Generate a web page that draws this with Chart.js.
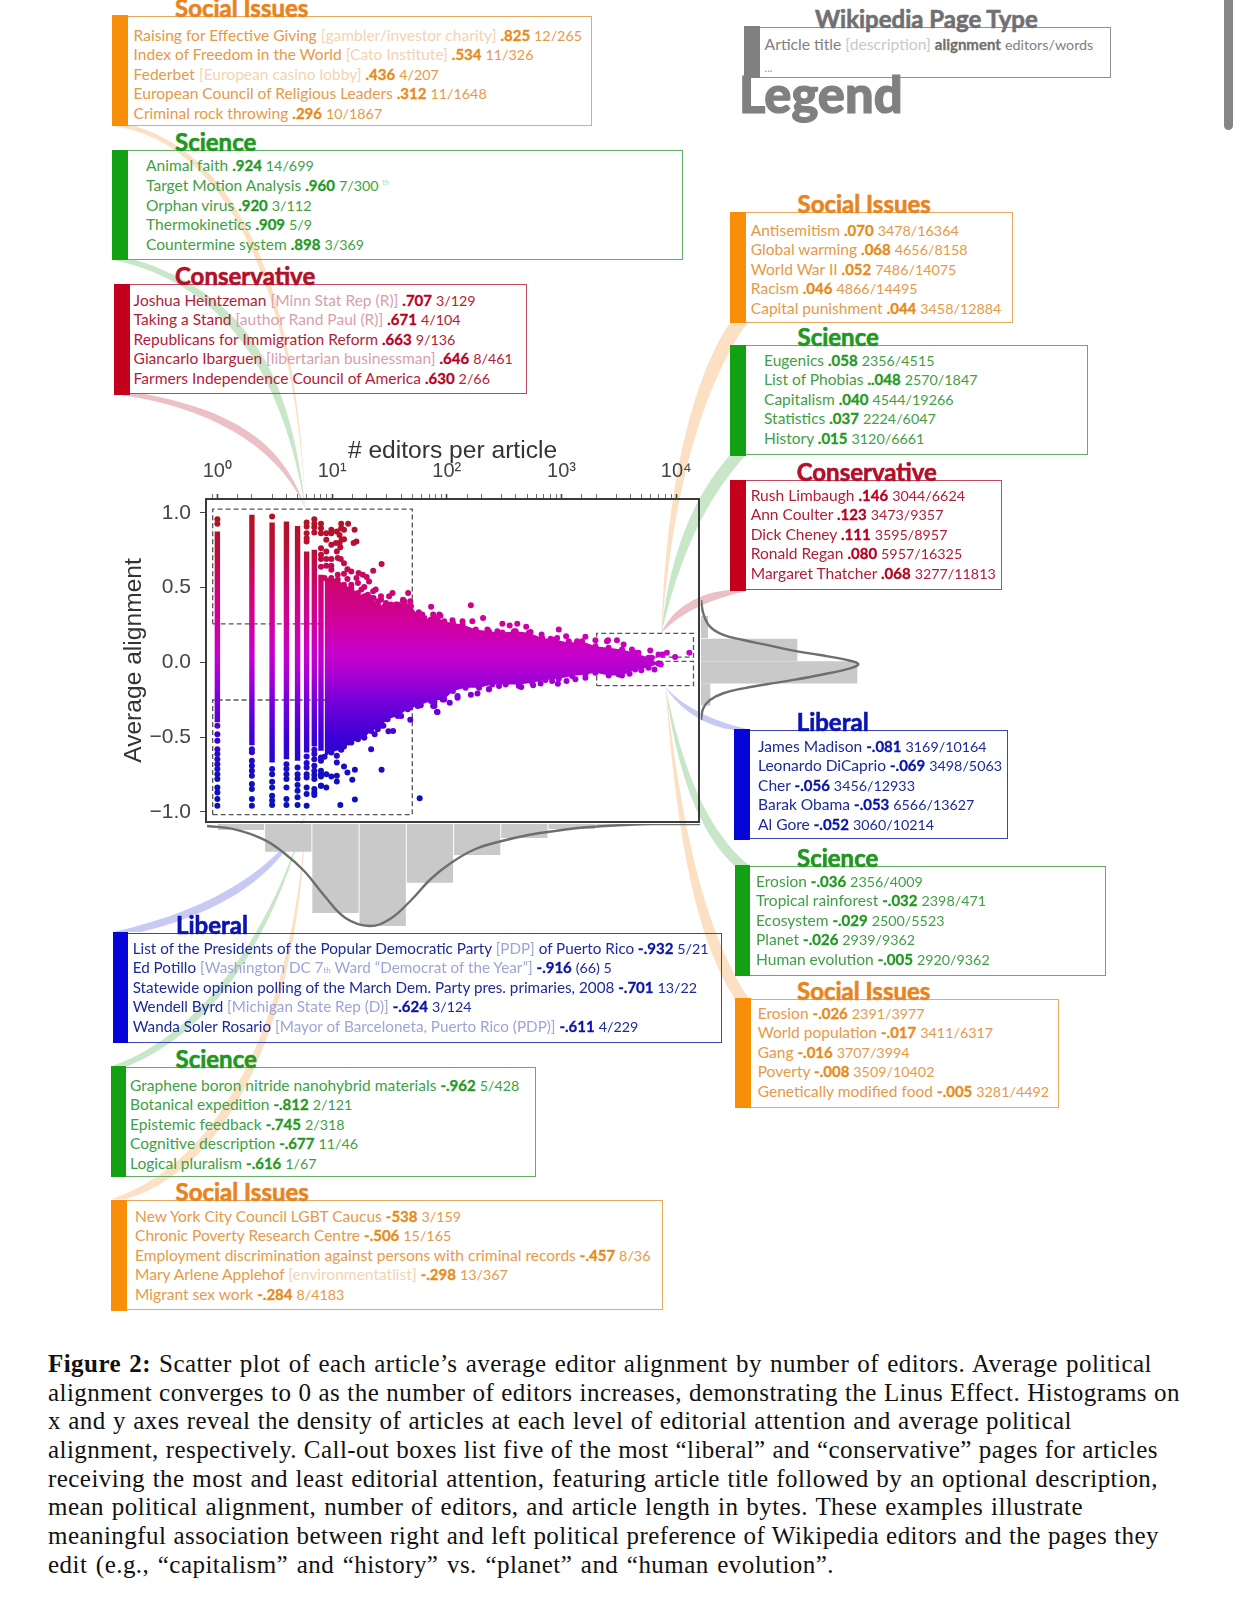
<!DOCTYPE html>
<html>
<head>
<meta charset="utf-8">
<script src="https://cdn.jsdelivr.net/npm/chart.js@4"></script>
<style>
  html, body { margin: 0; padding: 0; background: #fff; }
  body { position: relative; width: 1242px; height: 1598px; overflow: hidden; font-family: Lato, "Noto Sans", sans-serif; }
  canvas { position: absolute; z-index: 1; }
  #ribbons { position: absolute; left: 0; top: 0; z-index: 0; }
  .box { position: absolute; box-sizing: border-box; border: 1.5px solid; z-index: 2; }
  .bar { position: absolute; top: -1.5px; bottom: -1.5px; left: -1.5px; }
  .head { position: absolute; font-weight: 700; font-size: 24px; line-height: 24px; white-space: nowrap; z-index: 2; -webkit-text-stroke: .6px currentColor; }
  .line { position: absolute; font-size: 15.55px; line-height: 20px; white-space: nowrap; z-index: 2; }
  .line b { font-size: 15px; -webkit-text-stroke: .3px currentColor; }
  .line .stats { font-size: 14.3px; }
  .line small { font-size: 8px; line-height: 0; }
  .line sup { font-size: 8px; line-height: 0; opacity: .4; }
  .cap { position: absolute; left: 48px; font-family: "Liberation Serif", serif; font-size: 25px; letter-spacing: .45px; line-height: 29px; white-space: nowrap; text-align-last: justify; color: #111; z-index: 2; }
  #scrollThumb { position: absolute; left: 1224px; top: -8px; width: 9px; height: 138px; border-radius: 5px; background: #868686; z-index: 3; }
  #legendWord { position: absolute; left: 739px; top: 64px; font-weight: 900; font-size: 50.6px; line-height: 60px; color: #808080; z-index: 3; -webkit-text-stroke: 1.2px currentColor; }
</style>
</head>
<body>
<svg id="ribbons" width="1242" height="1598"></svg>
<canvas id="scatterChart"></canvas>
<canvas id="editorsHist"></canvas>
<canvas id="alignHist"></canvas>
<div id="scrollThumb"></div>
<div id="legendWord">Legend</div>
<script>
// columns of articles with 1..8 editors, solid part
const columnEditors = [1, 2, 3, 4, 5, 6, 7, 8];
const columnTop = [.875, .987, .936, .942, .913, .742, .753, .587];
const columnBottom = [-.40, -.553, -.669, -.647, -.658, -.602, -.562, -.591];
// separate dots on each column above/below the solid part
const columnBeads = [
  [.958, .927, -.424, -.48, -.524, -.58, -.613, -.647, -.68, -.713, -.747, -.78, -.836, -.869, -.913, -.958],
  [-.58, -.60, -.658, -.691, -.724, -.758, -.813, -.847, -.913, -.958],
  [.976, -.713, -.747, -.798, -.836, -.891, -.924, -.953],
  [-.68, -.713, -.747, -.78, -.836, -.913, -.953],
  [-.702, -.747, -.776, -.82, -.858, -.902, -.953],
  [.936, .909, .864, .831, .809, -.629, -.673, -.702, -.747, -.769, -.836, -.88, -.958],
  [.958, .927, .904, .869, -.584, -.613, -.647, -.691, -.724, -.753, -.78, -.847, -.869, -.887],
  [.927, .898, .864, .764, .72, .691, .64, -.636, -.658, -.724, -.747, -.762, -.824]
];

// outline of the dense wedge
const massUpperEditors = [8.6, 9.85, 11.2, 12.7, 14.7, 16.8, 19.1, 21.9, 25.1, 28.7, 32.6, 37.3, 42.6, 48.7, 55.7, 63.7, 72.6, 83, 95, 113, 137, 179, 233, 305, 398, 520, 678, 885, 1156, 1510, 1972, 2574, 3365, 4389, 5728, 6998];
const massUpperAlign = [.565, .565, .553, .52, .498, .464, .442, .431, .387, .376, .387, .387, .409, .376, .32, .298, .287, .298, .276, .264, .253, .22, .209, .2, .209, .198, .164, .153, .131, .142, .109, .098, .087, .064, .031, -.007];
const massLowerEditors = [8.6, 9.85, 12, 14.7, 19.1, 21.9, 26.7, 30.5, 37.3, 45.6, 55.7, 72.6, 95, 113, 146, 191, 249, 326, 425, 555, 725, 946, 1236, 1614, 1972, 2574, 3365, 4389, 5728, 6998];
const massLowerAlign = [-.63, -.602, -.58, -.536, -.502, -.458, -.424, -.38, -.358, -.313, -.291, -.258, -.247, -.191, -.169, -.169, -.147, -.147, -.147, -.136, -.118, -.109, -.091, -.08, -.069, -.087, -.087, -.047, -.036, -.007];

// loose points outside the wedge
const strayEditors = [12, 13.8, 12, 12.7, 15.7, 9.85, 8.9, 9.85, 11, 11.6, 12.7, 16.3, 15.4, 8.9, 9.85, 10.8, 11.6, 12.1, 11.8, 8.9, 11, 9.85, 8.9, 11.2, 11.9, 12.7, 9.85, 8.9, 27, 22.8, 9.85, 13.6, 14.7, 12.7, 17, 18.5, 11.2, 13.6, 16.3, 20, 16.8, 21, 19.1, 24, 22.8, 33.6, 31.4, 46, 26.7, 25.1, 29.5, 41.5, 48, 73, 57, 61, 76, 88,
  162, 207, 305, 411, 353, 492, 946, 670, 1096, 1614, 1973, 2540, 3040, 3475, 5929, 8279, 6998, 7586, 9772, 13002, 7328, 6457, 4955, 3917, 3148, 1614, 1321, 1104, 929, 566, 446, 233, 185, 162, 124, 106, 92, 78, 83, 59,
  48, 21.9, 27, 58, 15.8, 11.8, 12.7, 13.6, 15.8, 15, 11, 11, 9.85, 8.9, 8.9, 8, 11, 11, 12, 12.7, 13.9, 15, 16.8, 19, 18, 21.9, 23.5, 25, 28, 31, 34, 30, 40, 48, 59, 76, 82, 78,
  112, 137, 167, 226, 276, 385, 537, 802, 916, 1156, 1366, 2489, 4106, 4688, 6118, 86, 75,
  70, 124, 233, 285, 425, 656, 828,
  14.7, 18, 20.5, 23, 26.7, 29.5, 36, 41.5, 46];
const strayAlign = [.927, .927, .898, .887, .887, .887, .864, .864, .876, .853, .824, .809, .798, .82, .787, .798, .798, .82, .771, .742, .742, .691, .691, .698, .691, .664, .647, .647, .658, .613, .62, .624, .609, .593, .598, .587, .587, .558, .564, .571, .531, .542, .504, .487, .476, .464, .442, .464, .442, .409, .398, .409, .409, .373, .336, .32, .32, .313,
  .382, .298, .258, .258, .247, .238, .22, .187, .176, .171, .149, .149, .149, .12, .08, .064, .053, .053, .036, .064, -.013, -.047, -.053, -.075, -.08, -.102, -.113, -.124, -.142, -.153, -.164, -.18, -.207, -.216, -.236, -.269, -.247, -.291, -.331, -.287,
  -.384, -.58, -.718, -.909, -.916, -.953, -.696, -.736, -.718, -.784, -.758, -.796, -.762, -.747, -.836, -.824, -.624, -.669, -.584, -.562, -.536, -.509, -.513, -.502, -.447, -.447, -.48, -.447, -.424, -.46, -.458, -.38, -.358, -.302, -.287, -.291, -.331, -.264,
  .282, .276, .276, .22, .209, .209, .204, .158, .164, .142, .142, .142, .087, .064, .031, .32, .287,
  -.236, -.224, -.18, -.158, -.158, -.14, -.124,
  .52, .487, .453, .431, .42, .387, .387, .42, .376];

// dashed call-out regions: editors from/to, alignment from/to
const regionEditorsFrom = [.91, .91, 2023, 2023];
const regionEditorsTo = [50, 50, 14125, 14125];
const regionAlignFrom = [.258, -1.018, .035, -.155];
const regionAlignTo = [1.025, -.251, .195, .007];

// colour by alignment
const colorStopValues = [1, .75, .5, .25, .05, -.1, -.25, -.5, -.75, -1];
const colorStops = [[175, 20, 35], [185, 15, 55], [205, 5, 115], [208, 0, 160], [198, 0, 205], [165, 0, 212], [120, 0, 218], [60, 0, 215], [20, 15, 190], [5, 20, 190]];

// x tick values, y ticks
const xTickLabels = { 1: '10⁰', 10: '10¹', 100: '10²', 1000: '10³', 10000: '10⁴' };
const yTickValues = [-1, -.5, 0, .5, 1];

// histogram along the bottom (log10 editors bin centre, height)
const editorsBinCentres = [.205, .615, 1.025, 1.435, 1.845, 2.255, 2.665, 3.075, 3.485];
const editorsBinHeights = [6, 27.7, 89, 102, 58.7, 31, 14, 5, 1];
const editorsCurveX = [-.09, .15, .40, .576, .753, .93, 1.108, 1.32, 1.498, 1.675, 1.852, 2.03, 2.24, 2.47, 2.70, 2.88, 3.235, 3.767, 4.19];
const editorsCurveY = [2, 5.3, 15.3, 28.7, 47, 72, 93.7, 102, 95, 77, 55, 38.7, 25, 17, 11, 7.7, 3, 0, 0];

// histogram on the right (alignment bin centre, width)
const alignBinCentres = [.24, .087, -.063, -.211];
const alignBinWidths = [6.7, 96, 156, 9];
const alignCurveX = [0, 2.3, 9, 22.3, 42.3, 65.7, 92.3, 119, 145.7, 157.3, 149, 119, 92.3, 65.7, 42.3, 22.3, 9, 2.3, 0];
const alignCurveY = [.42, .33, .242, .187, .153, .12, .082, .053, .02, -.007, -.036, -.08, -.113, -.142, -.169, -.202, -.247, -.302, -.38];

// call-out text: title, description, alignment, editors/words, text after description
const socialTopLeft = [
  ['Raising for Effective Giving', 'gambler/investor charity', '.825', '12/265'],
  ['Index of Freedom in the World', 'Cato Institute', '.534', '11/326'],
  ['Federbet', 'European casino lobby', '.436', '4/207'],
  ['European Council of Religious Leaders', '', '.312', '11/1648'],
  ['Criminal rock throwing', '', '.296', '10/1867']
];
const scienceTopLeft = [
  ['Animal faith', '', '.924', '14/699'],
  ['Target Motion Analysis', '', '.960', '7/300 <sup>th</sup>'],
  ['Orphan virus', '', '.920', '3/112'],
  ['Thermokinetics', '', '.909', '5/9'],
  ['Countermine system', '', '.898', '3/369']
];
const conservativeLeft = [
  ['Joshua Heintzeman', 'Minn Stat Rep (R)', '.707', '3/129'],
  ['Taking a Stand', 'author Rand Paul (R)', '.671', '4/104'],
  ['Republicans for Immigration Reform', '', '.663', '9/136'],
  ['Giancarlo Ibarguen', 'libertarian businessman', '.646', '8/461'],
  ['Farmers Independence Council of America', '', '.630', '2/66']
];
const socialTopRight = [
  ['Antisemitism', '', '.070', '3478/16364'],
  ['Global warming', '', '.068', '4656/8158'],
  ['World War II', '', '.052', '7486/14075'],
  ['Racism', '', '.046', '4866/14495'],
  ['Capital punishment', '', '.044', '3458/12884']
];
const scienceTopRight = [
  ['Eugenics', '', '.058', '2356/4515'],
  ['List of Phobias', '', '..048', '2570/1847'],
  ['Capitalism', '', '.040', '4544/19266'],
  ['Statistics', '', '.037', '2224/6047'],
  ['History', '', '.015', '3120/6661']
];
const conservativeRight = [
  ['Rush Limbaugh', '', '.146', '3044/6624'],
  ['Ann Coulter', '', '.123', '3473/9357'],
  ['Dick Cheney', '', '.111', '3595/8957'],
  ['Ronald Regan', '', '.080', '5957/16325'],
  ['Margaret Thatcher', '', '.068', '3277/11813']
];
const liberalRight = [
  ['James Madison', '', '-.081', '3169/10164'],
  ['Leonardo DiCaprio', '', '-.069', '3498/5063'],
  ['Cher', '', '-.056', '3456/12933'],
  ['Barak Obama', '', '-.053', '6566/13627'],
  ['Al Gore', '', '-.052', '3060/10214']
];
const scienceLowRight = [
  ['Erosion', '', '-.036', '2356/4009'],
  ['Tropical rainforest', '', '-.032', '2398/471'],
  ['Ecosystem', '', '-.029', '2500/5523'],
  ['Planet', '', '-.026', '2939/9362'],
  ['Human evolution', '', '-.005', '2920/9362']
];
const socialLowRight = [
  ['Erosion', '', '-.026', '2391/3977'],
  ['World population', '', '-.017', '3411/6317'],
  ['Gang', '', '-.016', '3707/3994'],
  ['Poverty', '', '-.008', '3509/10402'],
  ['Genetically modified food', '', '-.005', '3281/4492']
];
const liberalLeft = [
  ['List of the Presidents of the Popular Democratic Party', 'PDP', '-.932', '5/21', ' of Puerto Rico'],
  ['Ed Potillo', 'Washington DC 7<small>th</small> Ward “Democrat of the Year”', '-.916', '(66) 5'],
  ['Statewide opinion polling of the March Dem. Party pres. primaries, 2008', '', '-.701', '13/22'],
  ['Wendell Byrd', 'Michigan State Rep (D)', '-.624', '3/124'],
  ['Wanda Soler Rosario', 'Mayor of Barceloneta, Puerto Rico (PDP)', '-.611', '4/229']
];
const scienceLowLeft = [
  ['Graphene boron nitride nanohybrid materials', '', '-.962', '5/428'],
  ['Botanical expedition', '', '-.812', '2/121'],
  ['Epistemic feedback', '', '-.745', '2/318'],
  ['Cognitive description', '', '-.677', '11/46'],
  ['Logical pluralism', '', '-.616', '1/67']
];
const socialLowLeft = [
  ['New York City Council LGBT Caucus', '', '-538', '3/159'],
  ['Chronic Poverty Research Centre', '', '-.506', '15/165'],
  ['Employment discrimination against persons with criminal records', '', '-.457', '8/36'],
  ['Mary Arlene Applehof', 'environmentatlist', '-.298', '13/367'],
  ['Migrant sex work', '', '-.284', '8/4183']
];
const legendLines = [['Article title', 'description', 'alignment', 'editors/words']];

const captionLines = [
  '<b>Figure 2:</b> Scatter plot of each article’s average editor alignment by number of editors. Average political',
  'alignment converges to 0 as the number of editors increases, demonstrating the Linus Effect. Histograms on',
  'x and y axes reveal the density of articles at each level of editorial attention and average political',
  'alignment, respectively. Call-out boxes list five of the most “liberal” and “conservative” pages for articles',
  'receiving the most and least editorial attention, featuring article title followed by an optional description,',
  'mean political alignment, number of editors, and article length in bytes. These examples illustrate',
  'meaningful association between right and left political preference of Wikipedia editors and the pages they',
  'edit (e.g., “capitalism” and “history” vs. “planet” and “human evolution”.'
];
const captionWidths = [1104, 1132, 1024, 1110, 1110, 1035, 1111, 786];

const palette = {
  orange: { bar: '#f98e0a', edge: '#eaa85e', text: '#e59a48', desc: '#f2d4b0', bold: '#e98a18', head: '#e8841e' },
  green: { bar: '#13a013', edge: '#62ae62', text: '#3f9f45', desc: '#a8d6a8', bold: '#1f9a1f', head: '#1e981e' },
  red: { bar: '#c4001c', edge: '#c24860', text: '#b41c38', desc: '#d8a0ac', bold: '#b8001f', head: '#b40f28' },
  blue: { bar: '#0505d8', edge: '#3a46ae', text: '#1c2a9c', desc: '#9ea4d8', bold: '#0a14a8', head: '#0a14b4' },
  gray: { bar: '#808080', edge: '#909090', text: '#808080', desc: '#c8c8c8', bold: '#707070', head: '#707070' }
};

const callouts = [
  { lines: socialTopLeft, head: 'Social Issues', col: 'orange', l: 112, t: 15.7, r: 591.5, b: 125.7, bar: 16, text: 133.6, hl: 175, y0: 35 },
  { lines: scienceTopLeft, head: 'Science', col: 'green', l: 112.6, t: 150.3, r: 683, b: 260, bar: 16, text: 146, hl: 175, y0: 165.7 },
  { lines: conservativeLeft, head: 'Conservative', col: 'red', l: 114, t: 284.3, r: 527, b: 394.3, bar: 16, text: 133.6, hl: 175, y0: 300 },
  { lines: socialTopRight, head: 'Social Issues', col: 'orange', l: 730.4, t: 212.3, r: 1013.5, b: 322.7, bar: 16, text: 750.8, hl: 797.5, y0: 230 },
  { lines: scienceTopRight, head: 'Science', col: 'green', l: 730.4, t: 345, r: 1088, b: 455, bar: 16, text: 764, hl: 797.5, y0: 360 },
  { lines: conservativeRight, head: 'Conservative', col: 'red', l: 730, t: 480, r: 1001.7, b: 590, bar: 16, text: 750.7, hl: 796.7, y0: 495 },
  { lines: liberalRight, head: 'Liberal', col: 'blue', l: 734.7, t: 729.7, r: 1008, b: 839.3, bar: 16, text: 758, hl: 796.7, y0: 746 },
  { lines: scienceLowRight, head: 'Science', col: 'green', l: 735, t: 865.7, r: 1106, b: 975.7, bar: 15, text: 756, hl: 797, y0: 881 },
  { lines: socialLowRight, head: 'Social Issues', col: 'orange', l: 735, t: 998.7, r: 1058.7, b: 1108, bar: 16.5, text: 757.7, hl: 797, y0: 1013 },
  { lines: liberalLeft, head: 'Liberal', col: 'blue', l: 113, t: 932.7, r: 721.6, b: 1042.7, bar: 15.5, text: 132.7, hl: 176, y0: 948, fs: 15.25 },
  { lines: scienceLowLeft, head: 'Science', col: 'green', l: 111.4, t: 1066.7, r: 536, b: 1176.7, bar: 15.5, text: 130, hl: 175.5, y0: 1085 },
  { lines: socialLowLeft, head: 'Social Issues', col: 'orange', l: 111.4, t: 1200, r: 663, b: 1310, bar: 16, text: 135, hl: 175.5, y0: 1216 },
  { lines: legendLines, head: 'Wikipedia Page Type', col: 'gray', l: 744, t: 26.7, r: 1111, b: 77.7, bar: 16, text: 764.6, hl: 815, y0: 44, fs: 15.7 }
];

// tapered connectors from the call-outs to the dashed regions
const ribbonPaths = [
  ['orange', 'M112 126 C230 140 295 300 305.6 509 C297 300 245 160 135 126 Z'],
  ['green', 'M113 260 C235 285 285 390 305.6 509 C292 395 262 300 136 260 Z'],
  ['red', 'M114 394 C200 405 275 440 305.6 509 C285 447 240 412 145 394 Z'],
  ['orange', 'M730 323 C690 380 665 500 661.5 633 C672 500 700 390 747 323 Z'],
  ['green', 'M730 455 C695 495 670 550 661.5 633 C680 555 705 500 746 455 Z'],
  ['red', 'M730 590 C700 592 672 608 661.5 633 C682 612 708 600 746 591 Z'],
  ['blue', 'M735 730 C705 727 678 708 665.4 686.7 C684 708 715 722 752 730 Z'],
  ['green', 'M735 866 C695 830 675 760 665.4 686.7 C682 765 705 830 750 866 Z'],
  ['orange', 'M735 999 C690 930 675 810 665.4 686.7 C680 810 700 925 749 999 Z'],
  ['blue', 'M113 932 C190 915 270 880 305.6 816 C278 882 210 915 141 932 Z'],
  ['green', 'M112 1066 C190 1040 265 950 305.6 816 C270 950 205 1035 128 1066 Z'],
  ['orange', 'M112 1199 C230 1160 295 1000 305.6 816 C300 1000 240 1165 126 1199 Z']
];
const ribbonColors = { orange: 'rgba(245,170,90,.36)', green: 'rgba(110,190,110,.38)', red: 'rgba(200,80,100,.36)', blue: 'rgba(90,100,220,.34)' };

function colorAt(v) {
  for (let i = 1; i < colorStopValues.length; i++) {
    if (v >= colorStopValues[i]) {
      const t = (v - colorStopValues[i]) / (colorStopValues[i - 1] - colorStopValues[i]);
      const a = colorStops[i], b = colorStops[i - 1];
      return 'rgb(' + a.map((c, k) => Math.round(c + (b[k] - c) * t)).join(',') + ')';
    }
  }
  return 'rgb(' + colorStops[colorStops.length - 1].join(',') + ')';
}

function alignGradient(chart) {
  if (!chart.chartArea) return '#c000c8';
  const y = chart.scales.y;
  const top = y.getPixelForValue(1), bottom = y.getPixelForValue(-1);
  const g = chart.ctx.createLinearGradient(0, top, 0, bottom);
  colorStopValues.forEach((v, i) => g.addColorStop((1 - v) / 2, colorAt(v)));
  return g;
}

const pointColor = c => (c.parsed ? colorAt(c.parsed.y) : '#c000c8');
const pairs = (xs, ys) => xs.map((x, i) => ({ x: x, y: ys[i] }));

function placeCanvas(id, left, top, w, h) {
  const el = document.getElementById(id);
  el.style.left = left + 'px';
  el.style.top = top + 'px';
  el.style.width = w + 'px';
  el.style.height = h + 'px';
  el.width = w;
  el.height = h;
  return el;
}

function buildRibbons() {
  const svg = document.getElementById('ribbons');
  ribbonPaths.forEach(r => {
    const p = document.createElementNS('http://www.w3.org/2000/svg', 'path');
    p.setAttribute('d', r[1]);
    p.setAttribute('fill', ribbonColors[r[0]]);
    svg.appendChild(p);
  });
}

function addDiv(cls, css, html) {
  const d = document.createElement('div');
  d.className = cls;
  Object.assign(d.style, css);
  d.innerHTML = html;
  document.body.appendChild(d);
  return d;
}

function buildCallouts() {
  callouts.forEach(c => {
    const col = palette[c.col];
    const box = addDiv('box', {
      left: c.l + 'px', top: c.t + 'px', width: (c.r - c.l) + 'px', height: (c.b - c.t) + 'px', borderColor: col.edge
    }, '');
    const bar = document.createElement('div');
    bar.className = 'bar';
    bar.style.width = c.bar + 'px';
    bar.style.background = col.bar;
    box.appendChild(bar);
    addDiv('head', { left: c.hl + 'px', top: (c.t - 20) + 'px', color: col.head }, c.head);
    c.lines.forEach((ln, i) => {
      let html = '<span style="color:' + col.text + '">' + ln[0] + '</span>';
      if (ln[1]) html += ' <span style="color:' + col.desc + '">[' + ln[1] + ']</span>';
      if (ln[4]) html += '<span style="color:' + col.text + '">' + ln[4] + '</span>';
      html += ' <b style="color:' + col.bold + '">' + ln[2] + '</b>';
      html += ' <span class="stats" style="color:' + col.text + '">' + ln[3] + '</span>';
      const css = { left: c.text + 'px', top: (c.y0 - 10.5 + i * 19.65) + 'px' };
      if (c.fs) css.fontSize = c.fs + 'px';
      addDiv('line', css, html);
    });
  });
  addDiv('line', { left: '764.6px', top: '58px', color: '#909090', fontSize: '11px' }, '...');
}

function buildCaption() {
  captionLines.forEach((t, i) => {
    addDiv('cap', { top: (1349 + i * 28.65) + 'px', width: captionWidths[i] + 'px' }, t);
  });
}

const plotFrame = {
  id: 'plotFrame',
  afterDatasetsDraw(chart) {
    const a = chart.chartArea, c = chart.ctx;
    c.save();
    c.strokeStyle = '#3a3a3a';
    c.lineWidth = 2;
    c.strokeRect(a.left, a.top, a.right - a.left, a.bottom - a.top);
    c.restore();
  }
};

function drawScatter() {
  const datasets = [];
  const base = { showLine: false, pointRadius: 3, pointBorderWidth: 0, pointBackgroundColor: pointColor };
  // wedge
  datasets.push(Object.assign({}, base, {
    type: 'line', data: pairs(massUpperEditors, massUpperAlign), showLine: true, borderWidth: 0, tension: 0,
    fill: '+1', backgroundColor: c => alignGradient(c.chart)
  }));
  datasets.push(Object.assign({}, base, {
    type: 'line', data: pairs(massLowerEditors, massLowerAlign), showLine: true, borderWidth: 0, tension: 0, fill: false
  }));
  // columns
  columnEditors.forEach((e, i) => {
    datasets.push({
      type: 'line', data: [{ x: e, y: columnTop[i] }, { x: e, y: columnBottom[i] }],
      borderColor: c => alignGradient(c.chart), borderWidth: 5.4, pointRadius: 0, fill: false
    });
    datasets.push(Object.assign({}, base, {
      type: 'scatter', data: columnBeads[i].map(v => ({ x: e, y: v }))
    }));
  });
  datasets.push(Object.assign({}, base, { type: 'scatter', data: pairs(strayEditors, strayAlign) }));
  // dashed regions
  regionEditorsFrom.forEach((e, i) => {
    const e2 = regionEditorsTo[i], a = regionAlignFrom[i], b = regionAlignTo[i];
    datasets.push({
      type: 'line',
      data: [{ x: e, y: a }, { x: e2, y: a }, { x: e2, y: b }, { x: e, y: b }, { x: e, y: a }],
      borderColor: '#555', borderWidth: 1.3, borderDash: [5, 3], pointRadius: 0, fill: false
    });
  });
  new Chart(placeCanvas('scatterChart', 100, 420, 603, 406), {
    type: 'scatter',
    data: { datasets: datasets },
    plugins: [plotFrame],
    options: {
      responsive: false, animation: false, devicePixelRatio: 1,
      layout: { padding: { right: 2, bottom: 2 } },
      plugins: { legend: { display: false }, tooltip: { enabled: false } },
      scales: {
        x: {
          type: 'logarithmic', position: 'top', min: 0.796, max: 15780,
          afterFit: s => { s.height = 79; s.paddingLeft = 0; s.paddingRight = 0; },
          afterBuildTicks: s => { s.ticks = s.ticks.filter(t => t.value <= 10000 && t.value >= .8); },
          grid: { drawOnChartArea: false, tickLength: 5, tickColor: '#444', tickWidth: c => (xTickLabels[c.tick && c.tick.value] ? 1.6 : .8) },
          border: { color: '#3a3a3a', width: 2 },
          title: { display: true, text: '# editors per article', color: '#333', font: { family: 'Liberation Sans', size: 24.6 }, padding: { top: 16, bottom: 0 } },
          ticks: {
            autoSkip: false, maxRotation: 0, padding: 11, color: '#444', font: { family: 'Liberation Sans', size: 20 },
            callback: v => xTickLabels[v] || ''
          }
        },
        y: {
          type: 'linear', min: -1.067, max: 1.093,
          afterFit: s => { s.width = 106; s.paddingTop = 0; s.paddingBottom = 0; },
          afterBuildTicks: s => { s.ticks = yTickValues.map(v => ({ value: v })); },
          grid: { drawOnChartArea: false, tickLength: 6, tickColor: '#444' },
          border: { color: '#3a3a3a', width: 2 },
          title: { display: true, text: 'Average alignment', color: '#333', font: { family: 'Liberation Sans', size: 24.6 }, padding: { top: 19, bottom: 0 } },
          ticks: {
            padding: 9, color: '#444', font: { family: 'Liberation Sans', size: 21 },
            callback: v => v.toFixed(1).replace('-', '−')
          }
        }
      }
    }
  });
}

function drawEditorsHist() {
  new Chart(placeCanvas('editorsHist', 206, 824, 495, 110), {
    data: {
      datasets: [
        { type: 'line', data: pairs(editorsCurveX, editorsCurveY), borderColor: '#6e6e6e', borderWidth: 2.4, tension: .4, pointRadius: 0, fill: false, order: 1 },
        { type: 'bar', data: pairs(editorsBinCentres, editorsBinHeights), backgroundColor: '#c9c9c9', barPercentage: .98, categoryPercentage: 1, order: 2 }
      ]
    },
    options: {
      responsive: false, animation: false, devicePixelRatio: 1,
      plugins: { legend: { display: false }, tooltip: { enabled: false } },
      scales: {
        x: { type: 'linear', display: false, offset: false, min: -.099, max: 4.198, ticks: { stepSize: 1 } },
        y: { type: 'linear', display: false, reverse: true, min: 0, max: 110 }
      }
    }
  });
}

function drawAlignHist() {
  new Chart(placeCanvas('alignHist', 701, 499, 170, 324), {
    data: {
      datasets: [
        { type: 'scatter', showLine: true, data: pairs(alignCurveX, alignCurveY), borderColor: '#6e6e6e', borderWidth: 2.4, tension: .4, pointRadius: 0, order: 1 },
        { type: 'bar', indexAxis: 'y', data: pairs(alignBinWidths, alignBinCentres), backgroundColor: '#c9c9c9', barThickness: 21.5, order: 2 }
      ]
    },
    options: {
      responsive: false, animation: false, devicePixelRatio: 1,
      plugins: { legend: { display: false }, tooltip: { enabled: false } },
      scales: {
        x: { type: 'linear', display: false, min: 0, max: 170 },
        y: { type: 'linear', display: false, offset: false, min: -1.067, max: 1.093, ticks: { stepSize: 1 } }
      }
    }
  });
}

document.addEventListener('DOMContentLoaded', function() {
  buildRibbons();
  drawScatter();
  drawEditorsHist();
  drawAlignHist();
  buildCallouts();
  buildCaption();
});
</script>
</body>
</html>
